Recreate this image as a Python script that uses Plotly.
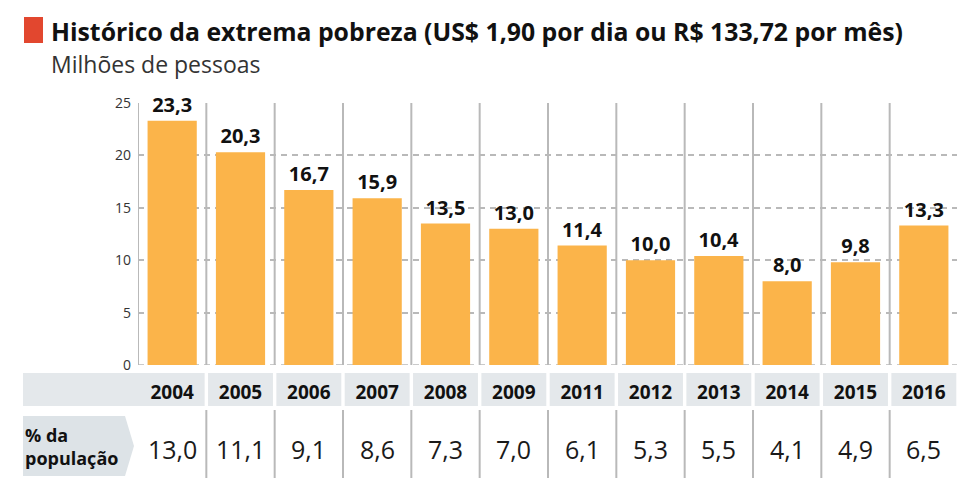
import plotly.graph_objects as go

years = ["2004", "2005", "2006", "2007", "2008", "2009", "2011", "2012", "2013", "2014", "2015", "2016"]
millions = [23.3, 20.3, 16.7, 15.9, 13.5, 13.0, 11.4, 10.0, 10.4, 8.0, 9.8, 13.3]
pct_pop = [13.0, 11.1, 9.1, 8.6, 7.3, 7.0, 6.1, 5.3, 5.5, 4.1, 4.9, 6.5]
y_ticks = [0, 5, 10, 15, 20, 25]

title = "Histórico da extrema pobreza (US$ 1,90 por dia ou R$ 133,72 por mês)"
subtitle = "Milhões de pessoas"
row_label = "% da<br>população"

# page body has an 8px margin: figure is drawn at (8, 8)
OFF = 8
W, H = 965 - OFF, 484 - OFF
L, R, T, B = 138 - OFF, 7, 103 - OFF, 119
PW, PH = W - L - R, H - T - B


def px(x):
    return (x - OFF - L) / PW


def py(y):
    return (H - B - (y - OFF)) / PH


def fmt(v):
    return f"{v:.1f}".replace(".", ",")


FONT = "Open Sans"
BAR = "#FBB44A"
GRID = "#b9b9b9"
BAND = "#e4e8eb"

fig = go.Figure()
fig.add_trace(go.Bar(
    x=years, y=millions,
    marker=dict(color=BAR, line=dict(width=0)),
    text=[fmt(v) for v in millions],
    textposition="outside",
    textfont=dict(family=FONT, size=20, color="#111111", weight="bold"),
    cliponaxis=False,
    hoverinfo="skip",
))

shapes = []
n = len(years)
for i in range(n + 1):
    shapes.append(dict(type="line", xref="x", yref="y", x0=i - 0.5, x1=i - 0.5, y0=0, y1=25,
                       line=dict(color=GRID, width=2), layer="below"))
shapes.append(dict(type="line", xref="paper", yref="y", x0=0, x1=1, y0=0, y1=0,
                   line=dict(color=GRID, width=1.5, dash="6px,5px"), layer="below"))
shapes.append(dict(type="rect", xref="paper", yref="paper", x0=px(23), x1=px(138), y0=py(406), y1=py(373),
                   fillcolor=BAND, line=dict(width=0), layer="below"))
for i in range(n):
    shapes.append(dict(type="rect", xref="x", yref="paper",
                       x0=i - 0.5 + (0 if i == 0 else 0.025), x1=i + 0.5 - 0.025,
                       y0=py(406), y1=py(373), fillcolor=BAND, line=dict(width=0), layer="below"))
for i in range(n - 1):
    shapes.append(dict(type="line", xref="x", yref="paper", x0=i + 0.5, x1=i + 0.5,
                       y0=py(478), y1=py(410), line=dict(color=GRID, width=2)))
ax0, ax1, axp = px(23), px(125), px(134)
ayt, ayb, aym = py(416), py(476), py(446)
shapes.append(dict(type="path", xref="paper", yref="paper",
                   path=f"M {ax0},{ayt} L {ax1},{ayt} L {axp},{aym} L {ax1},{ayb} L {ax0},{ayb} Z",
                   fillcolor="#dde3e7", line=dict(width=0)))
shapes.append(dict(type="rect", xref="paper", yref="paper", x0=px(24), x1=px(43), y0=py(43), y1=py(17),
                   fillcolor="#E2472F", line=dict(width=0)))

annotations = [
    dict(text=title, xref="paper", yref="paper", x=px(49), y=py(31), xanchor="left", yanchor="middle",
         showarrow=False, font=dict(family=FONT, size=24.8, color="#111111", weight="bold")),
    dict(text=subtitle, xref="paper", yref="paper", x=px(49), y=py(64), xanchor="left", yanchor="middle",
         showarrow=False, font=dict(family=FONT, size=23, color="#333333")),
    dict(text=row_label, xref="paper", yref="paper", x=px(23), y=py(446), xanchor="left", yanchor="middle",
         showarrow=False, align="left",
         font=dict(family=FONT, size=18, color="#111111", weight="bold")),
]
for i, v in enumerate(pct_pop):
    annotations.append(dict(text=fmt(v), xref="x", yref="paper", x=i, y=py(449),
                            xanchor="center", yanchor="middle", showarrow=False,
                            font=dict(family=FONT, size=25, color="#1a1a1a")))

fig.update_layout(
    width=W, height=H,
    margin=dict(l=L, r=R, t=T, b=B, autoexpand=False),
    paper_bgcolor="white", plot_bgcolor="white",
    bargap=0.28,
    showlegend=False,
    separators=",.",
    shapes=shapes,
    annotations=annotations,
    xaxis=dict(type="category", range=[-0.5, n - 0.5], showgrid=False, zeroline=False, showline=False,
               ticks="", ticklabelstandoff=14, automargin=False,
               tickfont=dict(family=FONT, size=19, color="#111111", weight="bold")),
    yaxis=dict(range=[0, 25], tickvals=y_ticks, showgrid=True, gridcolor=GRID, gridwidth=1.5,
               griddash="6px,5px", zeroline=False, showline=False, ticks="", ticklabelstandoff=6,
               automargin=False,
               tickfont=dict(family=FONT, size=14, color="#333333")),
)

fig.write_html("out.html")
